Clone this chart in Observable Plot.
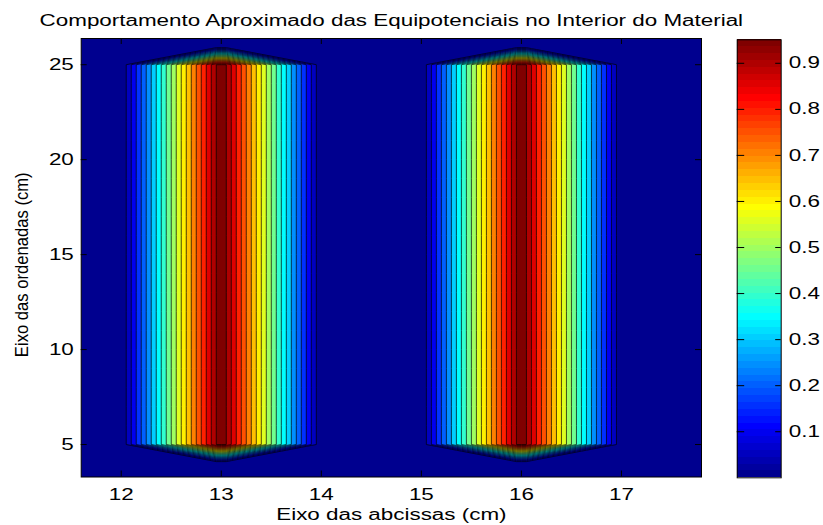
<!DOCTYPE html>
<html>
<head>
<meta charset="utf-8">
<script src="https://cdn.jsdelivr.net/npm/d3@7"></script>
<script src="https://cdn.jsdelivr.net/npm/@observablehq/plot@0.6"></script>
<style>
  html, body { margin: 0; padding: 0; background: #ffffff; }
  #wrap { position: relative; width: 823px; height: 525px; overflow: hidden; }
  #wrap svg { position: absolute; left: 0; top: 0; overflow: visible; }
</style>
</head>
<body>
<div id="wrap"></div>
<script>
// ---------------- data ----------------
const titleText = "Comportamento Aproximado das Equipotenciais no Interior do Material";
const xLabelText = "Eixo das abcissas (cm)";
const yLabelText = "Eixo das ordenadas (cm)";
const xTicks = [12, 13, 14, 15, 16, 17];
const yTicks = [5, 10, 15, 20, 25];
const colorbarTicks = [0.1, 0.2, 0.3, 0.4, 0.5, 0.6, 0.7, 0.8, 0.9];
const xDomain = [11.6, 17.8];
const yDomain = [3.29, 26.38];
const colorLimits = [0, 0.951];
// contour levels
const levels = [0.05, 0.10, 0.15, 0.20, 0.25, 0.30, 0.35, 0.40, 0.45, 0.50,
                0.55, 0.60, 0.65, 0.70, 0.75, 0.80, 0.85, 0.90, 0.95];
// centres of the two conducting strips (cm)
const stripCenters = [13, 16];
// potential across one strip, sampled every 0.05 cm from centre-0.95 to centre+0.95
const stripProfile = [0.05, 0.10, 0.15, 0.20, 0.25, 0.30, 0.35, 0.40, 0.45, 0.50,
                      0.55, 0.60, 0.65, 0.70, 0.75, 0.80, 0.85, 0.90, 0.95, 0.951,
                      0.95, 0.90, 0.85, 0.80, 0.75, 0.70, 0.65, 0.60, 0.55, 0.50,
                      0.45, 0.40, 0.35, 0.30, 0.25, 0.20, 0.15, 0.10, 0.05];
const stripRows = [5, 25];        // strips run from y = 5 to y = 25 cm
const capDropPerCm = 1.0;          // potential fall-off beyond the strip ends

// ---------------- grid built from the arrays ----------------
const gx0 = 11.6, gdx = 0.05, nx = 125;   // column centres 11.6 ... 17.8
const gy0 = 4, gdy = 1, ny = 23;          // row centres 4 ... 26
const grid = new Array(nx * ny);
const rowDist = j => {
  const y = gy0 + j * gdy;
  return y < stripRows[0] ? stripRows[0] - y : y > stripRows[1] ? y - stripRows[1] : 0;
};
for (let j = 0; j < ny; j++) for (let i = 0; i < nx; i++) grid[j * nx + i] = -capDropPerCm * rowDist(j);
for (const c of stripCenters) {
  const i0 = Math.round((c - gx0) / gdx) - (stripProfile.length - 1) / 2;
  stripProfile.forEach((v, k) => {
    for (let j = 0; j < ny; j++) grid[j * nx + i0 + k] = v - capDropPerCm * rowDist(j);
  });
}

// ---------------- MATLAB jet(64) colormap ----------------
const jetCh = k => k < 0 ? 0 : k <= 15 ? (k + 1) / 16 : k <= 30 ? 1 : k <= 46 ? (47 - k) / 16 : 0;
const jet64 = d3.range(64).map(i => {
  const r = i + 1;
  return d3.rgb(Math.round(255 * jetCh(r - 25)), Math.round(255 * jetCh(r - 9)), Math.round(255 * jetCh(r + 7))).formatHex();
});
const colorBreaks = d3.range(1, 64).map(k => colorLimits[0] + (colorLimits[1] - colorLimits[0]) * k / 64);

// ---------------- layout ----------------
const W = 823, H = 525;
const m = {left: 80.7, right: 122, top: 38, bottom: 48.5};
const innerW = W - m.left - m.right, innerH = H - m.top - m.bottom;
const tickLen = 6;
const font = "'Liberation Sans', Arial, Helvetica, sans-serif";

const main = Plot.plot({
  width: W, height: H,
  marginLeft: m.left, marginRight: m.right, marginTop: m.top, marginBottom: m.bottom,
  style: {fontFamily: font, fontSize: "16px", color: "black", background: "transparent", overflow: "visible"},
  x: {domain: xDomain},
  y: {domain: yDomain},
  color: {type: "threshold", domain: colorBreaks, range: jet64},
  marks: [
    Plot.frame({fill: jet64[0]}),
    Plot.contour(grid, {
      width: nx, height: ny,
      x1: gx0 - gdx / 2, x2: gx0 + (nx - 0.5) * gdx,
      y1: gy0 - gdy / 2, y2: gy0 + (ny - 0.5) * gdy,
      thresholds: levels,
      fill: Plot.identity,
      stroke: "black", strokeWidth: 0.7,
      clip: true
    }),
    Plot.tickX(xTicks, {x: d => d, insetTop: innerH - tickLen, stroke: "black"}),
    Plot.tickX(xTicks, {x: d => d, insetBottom: innerH - tickLen, stroke: "black"}),
    Plot.tickY(yTicks, {y: d => d, insetRight: innerW - tickLen, stroke: "black"}),
    Plot.tickY(yTicks, {y: d => d, insetLeft: innerW - tickLen, stroke: "black"}),
    Plot.frame({stroke: "black", strokeWidth: 1}),
    Plot.axisX(xTicks, {anchor: "bottom", tickSize: 0, tickPadding: 11.5, label: null, fontSize: 16}),
    Plot.axisY(yTicks, {anchor: "left", tickSize: 0, tickPadding: 7.4, label: null, fontSize: 16}),
    Plot.text([titleText], {text: d => d, frameAnchor: "top", dy: 25.5 - m.top, lineAnchor: "bottom", fontSize: 16}),
    Plot.text([xLabelText], {text: d => d, frameAnchor: "bottom", dy: 519.5 - (H - m.bottom), lineAnchor: "bottom", fontSize: 16}),
    Plot.text([yLabelText], {text: d => d, frameAnchor: "left", textAnchor: "middle", dx: 22 - m.left, dy: 7, rotate: -90, lineAnchor: "middle", fontSize: 17.5})
  ]
});

// ---------------- colorbar ----------------
const cb = {left: 736.7, right: W - 780.7, top: 39.3, bottom: H - 477.3};
const cbW = W - cb.left - cb.right;
const cbStep = (colorLimits[1] - colorLimits[0]) / 64;
const colorbar = Plot.plot({
  width: W, height: H,
  marginLeft: cb.left, marginRight: cb.right, marginTop: cb.top, marginBottom: cb.bottom,
  style: {fontFamily: font, fontSize: "16px", color: "black", background: "transparent", overflow: "visible"},
  x: {domain: [0, 1], axis: null},
  y: {domain: colorLimits},
  color: {type: "identity"},
  marks: [
    Plot.rect(d3.range(64), {
      x1: 0, x2: 1,
      y1: i => colorLimits[0] + i * cbStep, y2: i => colorLimits[0] + (i + 1) * cbStep,
      fill: i => jet64[i], shapeRendering: "crispEdges"
    }),
    Plot.tickY(colorbarTicks, {y: d => d, insetRight: cbW - 7.5, stroke: "black"}),
    Plot.tickY(colorbarTicks, {y: d => d, insetLeft: cbW - 5.5, stroke: "black"}),
    Plot.frame({stroke: "black", strokeWidth: 1}),
    Plot.axisY(colorbarTicks, {anchor: "right", tickSize: 0, tickPadding: 7.6, label: null, tickFormat: d3.format(".1f"), fontSize: 16})
  ]
});

const wrap = document.getElementById("wrap");
wrap.appendChild(main);
wrap.appendChild(colorbar);

// horizontal glyph stretch seen in the reference
document.querySelectorAll("#wrap svg text").forEach(t => {
  const rotated = (t.getAttribute("transform") || "").includes("rotate");
  const L = t.getComputedTextLength();
  if (!(L > 0)) return;
  const s = rotated ? 0.95 : 1.4;
  t.setAttribute("textLength", (L * s).toFixed(2));
  t.setAttribute("lengthAdjust", "spacingAndGlyphs");
});
</script>
</body>
</html>
